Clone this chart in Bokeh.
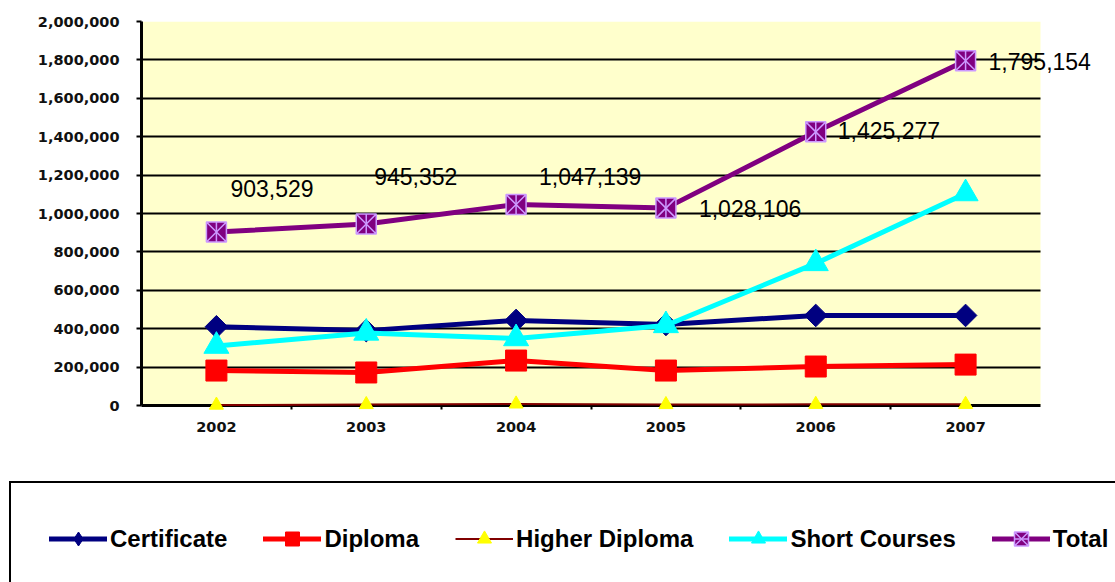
import numpy as np
from bokeh.plotting import figure
from bokeh.layouts import column
from bokeh.models import (ColumnDataSource, Legend, LegendItem, NumeralTickFormatter,
                          Range1d, FixedTicker, LabelSet, BoxAnnotation)
from bokeh.core.properties import value
from bokeh.embed import file_html
from bokeh.resources import INLINE

# ---- data ----
years = [2002, 2003, 2004, 2005, 2006, 2007]
certificate = [410000, 390000, 443000, 422000, 469000, 469000]
diploma = [182000, 172000, 234000, 182000, 203000, 213000]
higher_diploma = [2000, 5000, 8000, 5000, 6000, 6000]
short_courses = [309500, 378000, 349000, 417000, 740000, 1104000]
total = [903529, 945352, 1047139, 1028106, 1425277, 1795154]
y_ticks = [0, 200000, 400000, 600000, 800000, 1000000, 1200000, 1400000,
           1600000, 1800000, 2000000]

# label placement (screen px, relative to each point; positive dy = up)
label_dx = [14, 8, 23, 33, 22, 23]
label_dy = [44, 47, 28, 0, 1, -1]

src = ColumnDataSource(dict(
    year=years, certificate=certificate, diploma=diploma,
    higher_diploma=higher_diploma, short_courses=short_courses, total=total,
    total_label=[f"{v:,}" for v in total], dx=label_dx, dy=label_dy,
))

NAVY, RED, MAROON, YELLOW, CYAN, PURPLE, LILAC = (
    "#000080", "#FF0000", "#800000", "#FFFF00", "#00FFFF", "#800080", "#CC99FF")


def add_series(fig, level_hd="glyph", cert_marker="square", cert_angle=np.pi / 4):
    r = {}
    r["cl"] = fig.line("year", "certificate", source=src, line_color=NAVY, line_width=5,
                       line_cap="round", line_join="round")
    r["cs"] = fig.scatter("year", "certificate", source=src, marker=cert_marker,
                          angle=cert_angle, size=16, fill_color=NAVY, line_color=NAVY)
    r["dl"] = fig.line("year", "diploma", source=src, line_color=RED, line_width=5,
                       line_cap="round", line_join="round")
    r["ds"] = fig.scatter("year", "diploma", source=src, marker="square", size=21,
                          fill_color=RED, line_color=RED)
    r["hl"] = fig.line("year", "higher_diploma", source=src, line_color=MAROON,
                       line_width=2, level=level_hd)
    r["hs"] = fig.scatter("year", "higher_diploma", source=src, marker="triangle",
                          size=14, fill_color=YELLOW, line_color=YELLOW, level=level_hd)
    r["sl"] = fig.line("year", "short_courses", source=src, line_color=CYAN,
                       line_width=5, line_cap="round", line_join="round")
    r["ss"] = fig.scatter("year", "short_courses", source=src, marker="triangle",
                          size=25, fill_color=CYAN, line_color=CYAN)
    r["tl"] = fig.line("year", "total", source=src, line_color=PURPLE, line_width=5,
                       line_cap="round", line_join="round")
    r["ts"] = fig.scatter("year", "total", source=src, marker="square_x", size=20,
                          fill_color=PURPLE, line_color=LILAC, line_width=1.5)
    r["tv"] = fig.scatter("year", "total", source=src, marker="dash", angle=np.pi / 2,
                          size=20, line_color=LILAC, line_width=1.5)
    return r


# ---- main chart ----
x_start = years[0] - 0.5
x_stop = years[-1] + 0.5
x_end = x_stop + 75 * len(years) / 899   # frame runs on to the page edge

p = figure(x_range=Range1d(x_start, x_end), y_range=Range1d(y_ticks[0], y_ticks[-1]),
           width=1115, height=474, output_backend="svg", toolbar_location=None,
           min_border_left=141, min_border_right=0, min_border_top=21,
           min_border_bottom=69, background_fill_color="white",
           border_fill_color="white", outline_line_color=None)
p.frame_align = False

# plot area fill, spanning the categories only
p.add_layout(BoxAnnotation(left=x_start, right=x_stop, bottom=y_ticks[0],
                           top=y_ticks[-1], fill_color="#FFFFCC", fill_alpha=1,
                           line_color=None, level="image"))

p.yaxis.ticker = FixedTicker(ticks=y_ticks)
p.yaxis.formatter = NumeralTickFormatter(format="0,0")
p.yaxis.axis_line_width = 3
p.yaxis.major_tick_line_width = 2
p.yaxis.major_tick_out = 5
p.yaxis.major_tick_in = 0
p.yaxis.minor_tick_line_color = None
p.yaxis.major_label_standoff = 17

p.xaxis.ticker = FixedTicker(ticks=years, minor_ticks=[y + 0.5 for y in years[:-1]])
p.xaxis.bounds = (x_start, x_stop)
p.xaxis.axis_line_width = 3
p.xaxis.major_tick_line_color = None
p.xaxis.major_tick_out = 0
p.xaxis.major_tick_in = 0
p.xaxis.minor_tick_line_width = 2
p.xaxis.minor_tick_out = 4
p.xaxis.minor_tick_in = 0
p.xaxis.major_label_standoff = 12
for ax in (p.xaxis, p.yaxis):
    ax.major_label_text_font = "DejaVu Sans"
    ax.major_label_text_font_style = "bold"
    ax.major_label_text_font_size = "14.5px"
    ax.major_label_text_color = "#111111"

p.xgrid.grid_line_color = None
p.ygrid.ticker = FixedTicker(ticks=y_ticks)
p.ygrid.grid_line_color = "black"
p.ygrid.grid_line_width = 2
p.ygrid.cross_bounds = (x_start, x_stop)

add_series(p, level_hd="annotation")

labels = LabelSet(x="year", y="total", text="total_label", source=src,
                  x_offset="dx", y_offset="dy", text_align="left",
                  text_baseline="middle", text_font=value("Liberation Sans"),
                  text_font_size="23px", text_color="black")
p.add_layout(labels)

# ---- legend strip ----
p2 = figure(x_range=Range1d(x_start, x_end), y_range=Range1d(-2, -1),
            width=1115, height=108, output_backend="svg", toolbar_location=None,
            min_border=0, x_axis_location=None, y_axis_location=None,
            outline_line_color=None, background_fill_color="white")
p2.frame_align = False
p2.xgrid.visible = False
p2.ygrid.visible = False
lr = add_series(p2, cert_marker="diamond", cert_angle=0)

legend = Legend(items=[
    LegendItem(label="Certificate", renderers=[lr["cl"], lr["cs"]]),
    LegendItem(label="Diploma", renderers=[lr["dl"], lr["ds"]]),
    LegendItem(label="Higher Diploma", renderers=[lr["hl"], lr["hs"]]),
    LegendItem(label="Short Courses", renderers=[lr["sl"], lr["ss"]]),
    LegendItem(label="Total", renderers=[lr["tl"], lr["ts"], lr["tv"]]),
], orientation="horizontal", location=(9, -14), padding=38, spacing=36,
    glyph_width=58, glyph_height=35, label_height=35, label_standoff=3,
    label_text_font="Liberation Sans", label_text_font_style="bold",
    label_text_font_size="24px", label_text_color="black",
    border_line_color="black", border_line_width=2, border_line_alpha=1,
    background_fill_color="white", background_fill_alpha=1, margin=0)
p2.add_layout(legend, "center")

layout = column(p, p2, spacing=0)
open("out.html", "w").write(file_html(layout, INLINE))
